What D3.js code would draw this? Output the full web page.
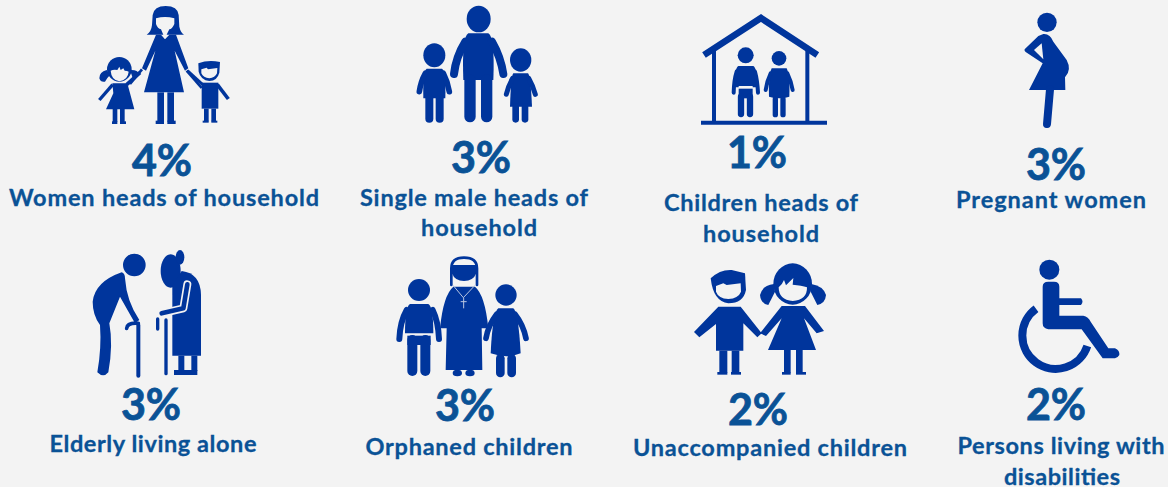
<!DOCTYPE html>
<html><head><meta charset="utf-8">
<script src="https://cdnjs.cloudflare.com/ajax/libs/d3/7.8.5/d3.min.js"></script>
<style>html,body{margin:0;padding:0;background:#f3f3f3}svg{display:block}</style>
</head><body><svg id="c" width="1168" height="487"></svg>
<script>
// Data
const categories = ["Women heads of household","Single male heads of household","Children heads of household","Pregnant women","Elderly living alone","Orphaned children","Unaccompanied children","Persons living with disabilities"];
const labelLines = [["Women heads of household"],["Single male heads of","household"],["Children heads of","household"],["Pregnant women"],["Elderly living alone"],["Orphaned children"],["Unaccompanied children"],["Persons living with","disabilities"]];
const percentValues = [4,3,1,3,3,3,2,2];

// Layout (separate from the data)
const valueX = [162,481,757,1056,151,465,758,1056];
const valueY = [176,173,168,180,420,421,425,420];
const labelX = [[164],[474,479],[761,761],[1051],[153],[469],[770],[1061,1062]];
const labelY = [[206],[206,236],[211,242],[208],[452],[455],[456],[454,485]];
const labelW = [[310],[228,116],[194,116],[190],[207],[207],[274],[207,116]];

const BG="#f3f3f3", BLUE="#00359c", TXT="#0a5296";
const svg=d3.select("#c");
svg.append("rect").attr("width",1168).attr("height",487).attr("fill",BG);

// Icons: each drawn in 3x crop coordinates
const F=(d,c)=>({t:"f",d,c:c||BLUE});
const S=(d,w,o)=>Object.assign({t:"s",d,w,c:BLUE,cap:"round"},o||{});
const E=(x,y,rx,ry,c)=>F(`M${x-rx} ${y}A${rx} ${ry} 0 1 0 ${x+rx} ${y}A${rx} ${ry} 0 1 0 ${x-rx} ${y}Z`,c);
const R=(x0,y0,x1,y1,c)=>F(`M${x0} ${y0}H${x1}V${y1}H${x0}Z`,c);

const icons=[
 {o:[80,0],p:[
  // woman
  F("M218 45Q222 18 257 18Q293 18 296 45L298 80Q302 98 312 104L200 104Q214 95 216 75Z"),
  F("M228 104L243 104L255 118L268 104L288 104L325 205L315 212L284 152L312 277L192 277L226 152L198 212L186 205Z"),
  F("M228 55Q255 47 283 55L283 72Q276 88 268 88L262 100L255 116L248 100L243 88Q233 86 228 72Z",BG),
  R(232,277,252,365),R(262,277,282,365),R(227,362,252,372),R(262,362,287,372),
  S("M186 208L150 252",8,{cap:"butt"}),S("M320 212L365 264",8,{cap:"butt"}),
  // girl
  E(118,208,37,37),F("M80 210Q58 215 58 235Q62 248 75 245Q80 235 90 225Z"),F("M150 210Q172 208 178 222L160 240Z"),
  F("M92 212Q100 208 112 210L118 200L122 210L130 205L134 212Q142 212 146 215Q144 240 118 244Q94 240 92 212Z",BG),
  F("M97 250L142 250L163 328L78 328L100 280Z"),
  S("M98 254L58 300",10,{cap:"butt"}),S("M140 254L180 218",11,{cap:"butt"}),
  R(98,326,112,366),R(120,326,134,366),R(96,364,112,372),R(120,364,138,372),
  // boy
  F("M355 190Q385 178 420 186L418 218Q412 242 388 243Q362 240 356 215Z"),
  F("M364 208L380 203L384 208L412 204L411 220Q405 234 388 235Q370 233 364 220Z",BG),
  R(365,248,415,326),S("M368 254L322 212",9,{cap:"butt"}),S("M412 254L445 297",11,{cap:"butt"}),
  R(372,326,386,364),R(394,326,408,364),R(368,362,386,368),R(394,362,412,368)
 ]},
 {o:[80,0],p:[
  E(1196,57,36,40),
  F("M1165 100L1225 100Q1245 110 1240 240L1150 240Q1145 110 1165 100Z"),
  S("M1156 125Q1128 170 1122 222",24),S("M1236 125Q1262 170 1270 222",24),
  S("M1170 240L1170 350",34),S("M1220 240L1220 350",34),
  E(1063,166,33,36),
  F("M1040 206L1086 206Q1098 212 1096 295L1030 295Q1028 212 1040 206Z"),
  S("M1036 220Q1022 245 1018 275",17),S("M1090 220Q1103 245 1108 275",17),
  S("M1048 295L1048 356",24),S("M1079 295L1079 356",24),
  E(1322,180,32,35),
  F("M1300 220L1344 220Q1352 225 1356 320L1290 320Q1293 225 1300 220Z"),
  S("M1298 235Q1284 260 1279 283",15),S("M1346 235Q1360 260 1366 283",15),
  S("M1307 320L1307 358",20),S("M1335 320L1335 358",20)
 ]},
 {o:[680,0],p:[
  S("M72 165L243 54L412 165",20,{cap:"butt",join:"miter"}),
  R(96,150,108,365),R(376,150,388,365),R(63,362,441,374),
  E(197,166,24,24),
  F("M175 198L220 198Q232 205 232 262L218 262L218 258L176 258L176 262L163 262Q163 205 175 198Z"),
  S("M170 215Q162 240 161 278",12),S("M225 215Q232 240 234 278",12),
  R(176,266,218,295),S("M183 290L183 342",19),S("M210 290L210 342",19),
  E(297,175,22,22),
  F("M275 205L320 205Q330 225 328 290Q298 300 267 290Q265 225 275 205Z"),
  S("M272 220Q260 245 257 270",12),S("M322 220Q334 245 338 270",12),
  S("M286 297L286 344",16),S("M309 297L309 344",16)
 ]},
 {o:[680,0],p:[
  E(1101,67,29,29),
  F("M1090 102Q1110 100 1120 125L1160 180Q1176 210 1155 232L1156 270L1047 270L1088 190L1037 156Q1030 150 1037 145L1075 108Z"),
  F("M1062 150L1085 130L1090 178Z",BG),
  S("M1110 268L1101 372",24)
 ]},
 {o:[80,245],p:[
  E(163,60,34,34),
  F("M125 82Q135 85 135 100Q140 170 178 225L165 235L120 155L88 235Q100 300 85 382Q70 400 52 382Q65 310 60 240Q38 210 38 170Q45 110 125 82Z"),
  S("M175 240V392",12),S("M140 250Q142 232 175 235",11),
  E(272,78,30,50),E(300,37,13,22),
  F("M277 120L305 78Q362 85 363 150L363 332L277 332Z"),
  R(295,332,313,378),R(334,332,352,378),R(282,375,352,390),
  S("M322 118L310 190L245 205",24,{c:BG}),
  S("M322 118L310 190L245 205",14,{join:"round"}),
  S("M258 225V386",10),S("M233 222V252",10)
 ]},
 {o:[80,245],p:[
  E(1017,135,33,33),
  F("M990 177L1045 177Q1060 185 1060 265L975 265Q975 185 990 177Z"),
  S("M980 195Q960 230 958 282",18),S("M1058 195Q1075 230 1077 282",18),
  S("M997 285L997 378",30),S("M1036 285L1036 378",30),R(982,272,1052,300),
  S("M1114 120V70Q1114 38 1152 38Q1191 38 1191 70V120",8),
  F("M1116 60L1189 60L1189 85Q1180 108 1152 108Q1124 108 1116 85Z"),
  F("M1120 125L1185 125Q1215 150 1225 250L1205 250L1207 375L1097 375L1100 250L1080 250Q1090 150 1120 125Z"),
  S("M1120 122L1150 158L1184 122",3,{c:"#b9c6e2"}),S("M1151 158V190M1142 170H1160",3,{c:"#b9c6e2",cap:"butt"}),
  E(1132,384,14,10),E(1170,384,14,10),
  E(1278,150,32,32),
  F("M1255 190L1300 190Q1315 200 1322 325Q1280 342 1232 325Q1238 200 1255 190Z"),
  S("M1250 208Q1225 240 1218 280",17),S("M1305 208Q1330 240 1338 280",17),
  S("M1261 340L1261 384",26),S("M1295 340L1295 384",26)
 ]},
 {o:[680,250],p:[
  F("M92 85Q120 58 155 60L195 70L198 120Q190 160 145 160Q100 155 92 85Z"),
  F("M108 108L130 100L140 105L182 100L183 125Q175 145 145 147Q115 145 108 125Z",BG),
  F("M115 170L182 170L245 250L232 262L190 220L190 302L108 302L108 222L58 262L42 246Z"),
  R(118,302,142,368),R(155,302,178,368),R(112,366,142,374),R(153,366,183,374),
  E(338,102,58,62),
  F("M282 102Q248 105 240 135Q242 160 265 165L285 125Z"),F("M394 102Q430 108 438 135Q436 160 412 165L392 125Z"),
  F("M296 112Q306 105 312 90L318 106L340 84L338 104Q365 106 381 112Q382 150 338 153Q296 150 296 112Z",BG),
  F("M305 168L375 168L432 243L410 250L372 205L408 300L264 300L305 205L258 258L240 250Z"),
  R(312,298,332,368),R(348,298,368,368),R(306,366,332,374),R(348,366,378,374)
 ]},
 {o:[680,250],p:[
  E(1108,59,30,30),
  F("M1088 110Q1088 95 1105 95L1122 95Q1138 95 1138 110L1138 145L1203 145Q1212 155 1203 165L1138 165L1138 197L1210 197Q1225 200 1232 215L1285 295L1305 295Q1320 302 1318 315Q1312 325 1305 325L1268 325L1205 238L1105 238Q1088 235 1088 220Z"),
  S("M1068 176A100 100 0 1 0 1222 288",24,{cap:"butt"})
 ]}
];

const g=svg.selectAll("g.item").data(categories).join("g").attr("class","item");
g.append("g").attr("transform",(d,i)=>`translate(${icons[i].o[0]},${icons[i].o[1]}) scale(${1/3})`)
 .each(function(d,i){
  d3.select(this).selectAll("path").data(icons[i].p).join("path")
   .attr("d",p=>p.d)
   .attr("fill",p=>p.t==="f"?p.c:"none")
   .attr("stroke",p=>p.t==="s"?p.c:"none")
   .attr("stroke-width",p=>p.w||0)
   .attr("stroke-linecap",p=>p.cap||"butt")
   .attr("stroke-linejoin",p=>p.join||"round");
 });

g.append("text").attr("class","val")
 .attr("x",(d,i)=>valueX[i]).attr("y",(d,i)=>valueY[i])
 .attr("text-anchor","middle").attr("font-family","Lato").attr("font-weight",700)
 .attr("font-size",43).attr("fill",TXT).attr("stroke",TXT).attr("stroke-width",0.8)
 .text((d,i)=>percentValues[i]+"%");

g.each(function(d,i){
 d3.select(this).selectAll("text.lab").data(labelLines[i]).join("text").attr("class","lab")
  .attr("x",(l,j)=>labelX[i][j]).attr("y",(l,j)=>labelY[i][j])
  .attr("text-anchor","middle").attr("font-family","Lato").attr("font-weight",700)
  .attr("font-size",23.5).attr("fill",TXT).attr("stroke",TXT).attr("stroke-width",0.3)
  .attr("textLength",(l,j)=>labelW[i][j]).attr("lengthAdjust","spacing").text(l=>l);
});
</script></body></html>
